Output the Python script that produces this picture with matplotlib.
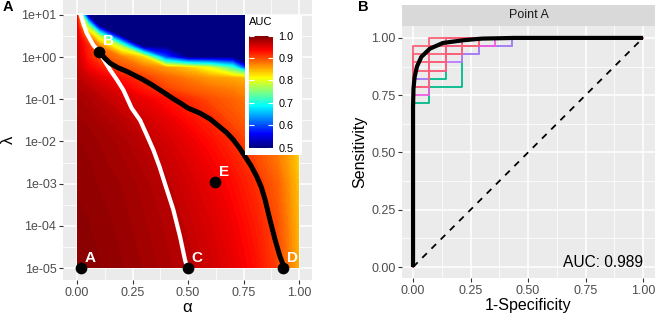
import numpy as np
import matplotlib
matplotlib.use('Agg')
import matplotlib.pyplot as plt
from matplotlib.colors import LinearSegmentedColormap, Normalize
from matplotlib.cm import ScalarMappable
from matplotlib.ticker import FixedLocator, FuncFormatter, FormatStrFormatter

plt.rcParams['font.family'] = ['Liberation Sans', 'DejaVu Sans']

# ---- panel A: AUC over the (alpha, lambda) grid ----
alpha_grid = [0, 0.05, 0.1, 0.2, 0.3, 0.4, 0.5, 0.6, 0.7, 0.8, 0.9, 0.95, 1.0]
log10_lambda_grid = [-5, -4, -3, -2.5, -2, -1.5, -1, -0.75, -0.5, -0.25, 0, 0.25, 0.5, 0.75, 1]
auc_grid = [
    [0.995, 0.994, 0.992, 0.988, 0.983, 0.977, 0.970, 0.960, 0.948, 0.932, 0.905, 0.880, 0.850],
    [0.993, 0.992, 0.990, 0.986, 0.980, 0.974, 0.965, 0.955, 0.942, 0.925, 0.900, 0.875, 0.845],
    [0.991, 0.990, 0.987, 0.983, 0.977, 0.969, 0.958, 0.947, 0.933, 0.915, 0.890, 0.868, 0.840],
    [0.990, 0.988, 0.985, 0.980, 0.973, 0.964, 0.953, 0.940, 0.925, 0.905, 0.880, 0.860, 0.835],
    [0.988, 0.986, 0.983, 0.977, 0.968, 0.958, 0.946, 0.932, 0.915, 0.898, 0.875, 0.860, 0.835],
    [0.984, 0.982, 0.978, 0.970, 0.960, 0.948, 0.933, 0.918, 0.900, 0.885, 0.865, 0.850, 0.835],
    [0.980, 0.976, 0.970, 0.958, 0.945, 0.930, 0.915, 0.900, 0.888, 0.870, 0.855, 0.845, 0.830],
    [0.975, 0.970, 0.962, 0.945, 0.925, 0.905, 0.892, 0.882, 0.874, 0.862, 0.850, 0.840, 0.830],
    [0.970, 0.960, 0.950, 0.930, 0.910, 0.890, 0.876, 0.862, 0.855, 0.835, 0.820, 0.810, 0.790],
    [0.966, 0.940, 0.925, 0.900, 0.880, 0.860, 0.838, 0.800, 0.720, 0.500, 0.500, 0.500, 0.500],
    [0.962, 0.925, 0.900, 0.875, 0.830, 0.600, 0.500, 0.500, 0.500, 0.500, 0.500, 0.500, 0.500],
    [0.958, 0.920, 0.880, 0.780, 0.500, 0.500, 0.500, 0.500, 0.500, 0.500, 0.500, 0.500, 0.500],
    [0.952, 0.880, 0.780, 0.500, 0.500, 0.500, 0.500, 0.500, 0.500, 0.500, 0.500, 0.500, 0.500],
    [0.945, 0.760, 0.500, 0.500, 0.500, 0.500, 0.500, 0.500, 0.500, 0.500, 0.500, 0.500, 0.500],
    [0.935, 0.500, 0.500, 0.500, 0.500, 0.500, 0.500, 0.500, 0.500, 0.500, 0.500, 0.500, 0.500],
]

white_alpha = [0.017, 0.030, 0.044, 0.073, 0.10, 0.125, 0.149, 0.180, 0.209, 0.246, 0.284,
               0.315, 0.344, 0.372, 0.396, 0.434, 0.464, 0.486, 0.497]
white_lambda = [10, 6.0, 3.7, 1.95, 1.35, 0.80, 0.50, 0.29, 0.166, 0.062, 0.032,
                0.014, 6.3e-3, 2.5e-3, 1.0e-3, 2.4e-4, 5.6e-5, 1.6e-5, 1e-5]

black_alpha = [0.10, 0.125, 0.149, 0.185, 0.224, 0.260, 0.299, 0.335, 0.374, 0.41, 0.44, 0.47,
               0.50, 0.554, 0.60, 0.644, 0.675, 0.704, 0.732, 0.757, 0.785, 0.809, 0.830,
               0.847, 0.869, 0.892, 0.914, 0.934]
black_lambda = [1.35, 0.95, 0.72, 0.56, 0.46, 0.37, 0.29, 0.225, 0.166, 0.125, 0.098, 0.079,
                0.062, 0.047, 0.034, 0.022, 0.016, 0.011, 7.0e-3, 4.4e-3, 2.6e-3, 1.5e-3, 8.3e-4,
                4.2e-4, 1.4e-4, 4.7e-5, 1.9e-5, 1e-5]

point_names = ['A', 'B', 'C', 'D', 'E']
point_alpha = [0.02, 0.10, 0.50, 0.93, 0.62]
point_lambda = [1e-5, 1.35, 1e-5, 1e-5, 1.1e-3]

# ---- panel B: ROC for point A ----
roc_fpr = [0, 0, 0.002, 0.007, 0.017, 0.036, 0.073, 0.13, 0.22, 0.30, 0.44, 1.0]
roc_tpr = [0, 0.70, 0.78, 0.83, 0.875, 0.917, 0.953, 0.978, 0.99, 0.997, 1.0, 1.0]
auc_value = 0.989

n_neg, n_pos = 14, 28
fold_colors = ['#00BA8B', '#00BA8B', '#B77BFF', '#F05BE0', '#FF5C9A',
               '#FB6177', '#FB6177', '#FB6177', '#FB6177', '#FB6177']
fold_fp = [
    [0, 0, 1, 1, 3, 3, 4, 4, 6, 6, 14],
    [0, 0, 2, 2, 4, 4, 14],
    [0, 0, 1, 1, 3, 3, 4, 4, 6, 6, 14],
    [0, 0, 1, 1, 2, 2, 5, 5, 14],
    [0, 0, 1, 1, 2, 2, 3, 3, 14],
    [0, 0, 2, 2, 14],
    [0, 0, 1, 1, 3, 3, 4, 4, 14],
    [0, 0, 2, 2, 3, 3, 14],
    [0, 0, 1, 1, 4, 4, 14],
    [0, 0, 1, 1, 14],
]
fold_tp = [
    [0, 20, 20, 22, 22, 26, 26, 27, 27, 28, 28],
    [0, 23, 23, 27, 27, 28, 28],
    [0, 23, 23, 25, 25, 26, 26, 27, 27, 28, 28],
    [0, 21, 21, 24, 24, 27, 27, 28, 28],
    [0, 22, 22, 25, 25, 26, 26, 28, 28],
    [0, 24, 24, 28, 28],
    [0, 22, 22, 26, 26, 27, 27, 28, 28],
    [0, 25, 25, 26, 26, 28, 28],
    [0, 26, 26, 27, 27, 28, 28],
    [0, 27, 27, 28, 28],
]

W, H = 657, 318


def px_box(x0, y0, x1, y1):
    return [x0 / W, 1 - y1 / H, (x1 - x0) / W, (y1 - y0) / H]


def gg_style(ax):
    ax.set_facecolor('#EBEBEB')
    for s in ax.spines.values():
        s.set_visible(False)
    ax.set_axisbelow(True)
    ax.grid(which='major', color='white', lw=1.1)
    ax.grid(which='minor', color='white', lw=0.55)
    ax.tick_params(which='major', length=2.75, width=0.8, color='#333333',
                   labelsize=9, labelcolor='#4D4D4D', pad=2)
    ax.tick_params(which='minor', length=0)


auc_cmap = LinearSegmentedColormap.from_list(
    'auc', ['#00007F', 'blue', '#007FFF', 'cyan', '#7FFF7F', 'yellow', '#FF7F00', 'red', '#7F0000'])

fig = plt.figure(figsize=(W / 100, H / 100), dpi=100)

# ------------- panel A -------------
ax = fig.add_axes(px_box(63, 0, 312, 280))
gg_style(ax)
ax.contourf(alpha_grid, log10_lambda_grid, np.array(auc_grid),
            levels=np.linspace(0.5, 1.0, 121), cmap=auc_cmap, vmin=0.5, vmax=1.0,
            antialiased=False, zorder=1)
ax.plot(white_alpha, np.log10(white_lambda), color='white', lw=3.0, zorder=3,
        solid_joinstyle='round')
ax.plot(black_alpha, np.log10(black_lambda), color='black', lw=3.6, zorder=3,
        solid_joinstyle='round')
ax.scatter(point_alpha, np.log10(point_lambda), s=55, color='black', zorder=4, clip_on=False)
for name, a, l in zip(point_names, point_alpha, point_lambda):
    ax.annotate(name, (a, np.log10(l)), xytext=(6.5, 7.5), textcoords='offset points',
                color='white', fontweight='bold', fontsize=11, ha='center', va='center', zorder=5)

ax.set_xlim(-14 / 222, 1 + 13 / 222)
ax.set_ylim(-5 - 12 / 42.17, 1 + 15 / 42.17)
ax.set_xticks([0, 0.25, 0.5, 0.75, 1.0])
ax.xaxis.set_minor_locator(FixedLocator([0.125, 0.375, 0.625, 0.875]))
ax.xaxis.set_major_formatter(FormatStrFormatter('%.2f'))
ax.set_yticks(range(-5, 2))
ax.yaxis.set_minor_locator(FixedLocator(np.arange(-4.5, 1, 1.0)))
ax.yaxis.set_major_formatter(FuncFormatter(lambda v, p: f"1e{int(round(v)):+03d}"))
ax.set_xlabel('α', fontsize=12, labelpad=1)
ax.set_ylabel('λ', fontsize=12, labelpad=4)

# legend box inside panel A
box = fig.add_axes(px_box(245, 15, 302, 155))
box.set_facecolor('white')
box.set_xticks([])
box.set_yticks([])
for s in box.spines.values():
    s.set_visible(False)
cax = fig.add_axes(px_box(249, 35.7, 273, 147.7))
cb = fig.colorbar(ScalarMappable(norm=Normalize(0.5, 1.0), cmap=auc_cmap), cax=cax)
cb.outline.set_visible(False)
cb.set_ticks([0.5, 0.6, 0.7, 0.8, 0.9, 1.0])
cb.ax.yaxis.set_major_formatter(FormatStrFormatter('%.1f'))
cax.tick_params(direction='in', color='white', length=3.4, width=0.8, left=True, right=True,
                labelsize=7.8, labelcolor='black', pad=4)
cax.text(0, 1 + 13.7 / 112, 'AUC', transform=cax.transAxes, fontsize=8, va='center', ha='left')

fig.text(8 / W, 1 - 7 / H, 'A', fontweight='bold', fontsize=10.5, ha='center', va='center')

# ------------- panel B -------------
axb = fig.add_axes(px_box(402, 26, 655, 278))
gg_style(axb)
for c, fp, tp in zip(fold_colors, fold_fp, fold_tp):
    axb.plot(np.array(fp) / n_neg, np.array(tp) / n_pos, color=c, lw=1.3, zorder=2)
axb.plot([0, 1], [0, 1], color='black', lw=1.3, linestyle=(0, (3.6, 3.6)), zorder=3)
axb.plot(roc_fpr, roc_tpr, color='black', lw=3.0, zorder=4, solid_capstyle='butt')
axb.text(1.0, 0.0, f'AUC: {auc_value}', ha='right', va='baseline', fontsize=11.2, color='black')
axb.set_xlim(-0.048, 1.052)
axb.set_ylim(-0.048, 1.052)
ticks = [0, 0.25, 0.5, 0.75, 1.0]
axb.set_xticks(ticks)
axb.set_yticks(ticks)
axb.xaxis.set_minor_locator(FixedLocator([0.125, 0.375, 0.625, 0.875]))
axb.yaxis.set_minor_locator(FixedLocator([0.125, 0.375, 0.625, 0.875]))
axb.xaxis.set_major_formatter(FormatStrFormatter('%.2f'))
axb.yaxis.set_major_formatter(FormatStrFormatter('%.2f'))
axb.set_xlabel('1-Specificity', fontsize=11.5, labelpad=1)
axb.set_ylabel('Sensitivity', fontsize=11.5, labelpad=3)

strip = fig.add_axes(px_box(402, 5, 655, 26))
strip.set_facecolor('#D9D9D9')
strip.set_xticks([])
strip.set_yticks([])
for s in strip.spines.values():
    s.set_visible(False)
strip.text(0.5, 0.5, 'Point A', ha='center', va='center', fontsize=9, color='#1A1A1A')

fig.text(363 / W, 1 - 7 / H, 'B', fontweight='bold', fontsize=10.5, ha='center', va='center')

fig.savefig('out.png', dpi=100)
